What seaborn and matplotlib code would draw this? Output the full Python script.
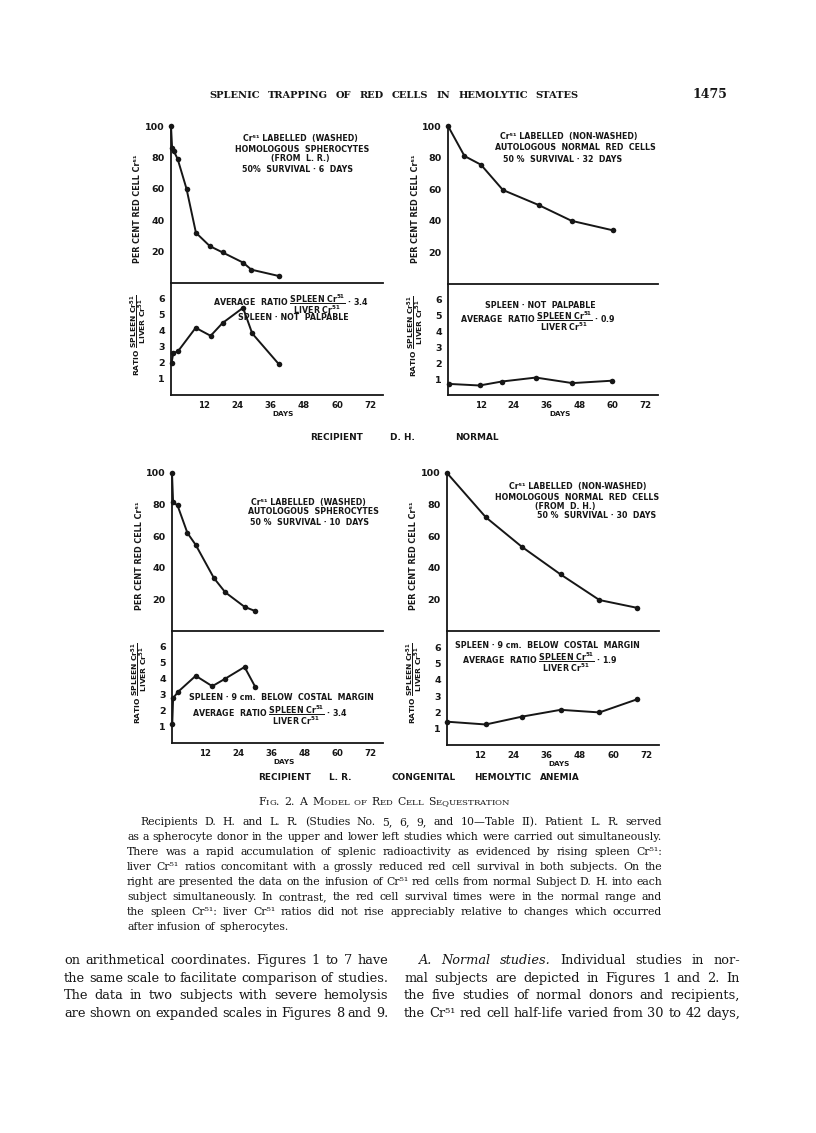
import matplotlib
matplotlib.use("Agg")
import matplotlib.pyplot as plt
import seaborn as sns
from matplotlib.ticker import FixedLocator

W, H = 816, 1133
ink = "#161616"

# ===== data (days, per cent red cell Cr51, spleen/liver ratio) =====
# upper left: washed homologous spherocytes (from L.R.) into D.H.
tl_days = [0, 0.4, 1, 2.4, 5.6, 9, 14, 18.6, 26, 29, 38.8]
tl_pct = [100, 86, 84, 79, 60, 32, 23.5, 19.5, 13, 8.5, 4.5]
tl_rdays = [0.2, 0.8, 2.6, 8.9, 14.3, 18.6, 26, 29.3, 38.8]
tl_ratio = [2.0, 2.6, 2.75, 4.2, 3.7, 4.5, 5.45, 3.85, 1.95]

# upper right: non-washed autologous normal cells, D.H.
tr_days = [0, 6, 12, 20, 33, 45, 60]
tr_pct = [100, 81, 75.5, 59.5, 50, 40, 34]
tr_rdays = [0.3, 11.5, 19.6, 32, 45.3, 59.6]
tr_ratio = [0.7, 0.6, 0.85, 1.1, 0.75, 0.9]

# lower left: washed autologous spherocytes, L.R.
bl_days = [0, 0.4, 2, 5.6, 8.6, 15.2, 19.3, 26.3, 30.2]
bl_pct = [100, 81.5, 79.5, 62, 54.5, 33.5, 24.5, 15.3, 12.6]
bl_rdays = [0.1, 0.4, 2.2, 8.6, 14.6, 19.1, 26.3, 30.2]
bl_ratio = [1.2, 2.8, 3.2, 4.2, 3.55, 4.0, 4.75, 3.5]

# lower right: non-washed homologous normal cells (from D.H.) into L.R.
br_days = [0, 14, 27, 41, 55, 68.5]
br_pct = [100, 72, 53.3, 35.8, 19.6, 14.7]
br_rdays = [0.1, 14, 27, 41, 55, 68.5]
br_ratio = [1.43, 1.26, 1.74, 2.16, 2.0, 2.8]

day_ticks = [12, 24, 36, 48, 60, 72]
day_minor = [6, 18, 30, 42, 54, 66]
pct_ticks = [20, 40, 60, 80, 100]
ratio_ticks = [1, 2, 3, 4, 5, 6]

sns.set_style("white")
plt.rcParams["font.family"] = ["DejaVu Sans"]
plt.rcParams["mathtext.fontset"] = "dejavusans"
plt.rcParams["text.color"] = ink

fig = plt.figure(figsize=(W / 100, H / 100), dpi=100)
renderer = fig.canvas.get_renderer()


def fx(x):
    return x / W


def fy(y):
    return 1 - y / H


def txt(x, y, s, size=5.7, ha="center", **kw):
    return fig.text(fx(x), fy(y), s, fontsize=size, ha=ha, va="center",
                    fontweight="bold", color=ink, **kw)


def style(ax, upper):
    sns.despine(ax=ax)
    ax.patch.set_alpha(0)
    ax.set_xlim(0, 76.5)
    for s in ("left", "bottom"):
        ax.spines[s].set_linewidth(1.3)
        ax.spines[s].set_color(ink)
    ax.xaxis.set_major_locator(FixedLocator(day_ticks))
    ax.xaxis.set_minor_locator(FixedLocator(day_minor))
    if upper:
        ax.set_ylim(0, 100)
        ax.set_yticks(pct_ticks)
        ax.tick_params(axis="x", which="both", direction="in", length=3.5,
                       width=1.1, color=ink, labelbottom=False)
    else:
        ax.set_ylim(0, 7)
        ax.set_yticks(ratio_ticks)
        ax.tick_params(axis="x", which="both", direction="out", length=3,
                       width=1.1, color=ink, labelsize=6.2, pad=1.5)
    ax.tick_params(axis="y", direction="out", length=3, width=1.1, color=ink,
                   labelsize=6.8, pad=1.5)
    for lab in ax.get_xticklabels() + ax.get_yticklabels():
        lab.set_fontweight("bold")
        lab.set_color(ink)
    ax.set_xlabel("")
    ax.set_ylabel("")


def curve(ax, x, y):
    sns.lineplot(x=x, y=y, ax=ax, color=ink, linewidth=1.4, marker="o",
                 markersize=4, markeredgewidth=0, estimator=None, sort=False)
    ax.lines[-1].set_clip_on(False)


frac = r"$\dfrac{\mathbf{SPLEEN\ Cr^{51}}}{\mathbf{LIVER\ Cr^{51}}}$"

# (left, right, top=100, divider, bottom) in page pixels
panels = [
    ((171, 383, 126, 283, 395), tl_days, tl_pct, tl_rdays, tl_ratio),
    ((448, 658, 126, 284, 395), tr_days, tr_pct, tr_rdays, tr_ratio),
    ((172, 383, 473, 631, 743), bl_days, bl_pct, bl_rdays, bl_ratio),
    ((447, 659, 473, 631, 745), br_days, br_pct, br_rdays, br_ratio),
]

for (l, r, t, d, b), days, pct, rdays, ratio in panels:
    up = fig.add_axes([fx(l), fy(d), (r - l) / W, (d - t) / H])
    lo = fig.add_axes([fx(l), fy(b), (r - l) / W, (b - d) / H])
    curve(up, days, pct)
    curve(lo, rdays, ratio)
    style(up, True)
    style(lo, False)
    txt(l - 33, (t + d) / 2 + 4, "PER CENT RED CELL Cr\u2075\u00b9", size=5.8, rotation=90)
    txt(l - 33, d + 52, "RATIO " + frac, size=5.4, rotation=90)
    txt(l + 112, b + 19, "DAYS", size=5.2)

# ===== panel annotations =====
txt(300, 139, "Cr\u2075\u00b9 LABELLED  (WASHED)")
txt(302, 150, "HOMOLOGOUS  SPHEROCYTES")
txt(300, 159, "(FROM  L. R.)")
txt(297, 170, "50%  SURVIVAL \u00b7 6  DAYS")
txt(213, 304, "AVERAGE  RATIO " + frac + " \u00b7 3.4", ha="left")
txt(238, 318, "SPLEEN \u00b7 NOT  PALPABLE", ha="left")

txt(569, 136, "Cr\u2075\u00b9 LABELLED  (NON-WASHED)")
txt(575, 148, "AUTOLOGOUS  NORMAL  RED  CELLS")
txt(563, 159, "50 %  SURVIVAL \u00b7 32  DAYS")
txt(485, 306, "SPLEEN \u00b7 NOT  PALPABLE", ha="left")
txt(460, 321, "AVERAGE  RATIO " + frac + " \u00b7 0.9", ha="left")

txt(308, 502, "Cr\u2075\u00b9 LABELLED  (WASHED)")
txt(313, 512, "AUTOLOGOUS  SPHEROCYTES")
txt(310, 522, "50 %  SURVIVAL \u00b7 10  DAYS")
txt(189, 698, "SPLEEN \u00b7 9 cm.  BELOW  COSTAL  MARGIN", ha="left")
txt(192, 715, "AVERAGE  RATIO " + frac + " \u00b7 3.4", ha="left")

txt(578, 487, "Cr\u2075\u00b9 LABELLED  (NON-WASHED)")
txt(577, 497, "HOMOLOGOUS  NORMAL  RED  CELLS")
txt(565, 506, "(FROM  D. H.)")
txt(597, 515, "50 %  SURVIVAL \u00b7 30  DAYS")
txt(455, 646, "SPLEEN \u00b7 9 cm.  BELOW  COSTAL  MARGIN", ha="left")
txt(462, 662, "AVERAGE  RATIO " + frac + " \u00b7 1.9", ha="left")

# recipient labels
for x, w in [(310, "RECIPIENT"), (390, "D. H."), (455, "NORMAL")]:
    txt(x, 437, w, size=6.4, ha="left")
for x, w in [(258, "RECIPIENT"), (329, "L. R."), (391, "CONGENITAL"),
             (474, "HEMOLYTIC"), (540, "ANEMIA")]:
    txt(x, 777, w, size=6.4, ha="left")


# ===== page text =====
def justify(x0, x1, y, line, size, last=False, italic=0, weight="normal"):
    words = line.split()
    objs = []
    for i, w in enumerate(words):
        objs.append(fig.text(0, fy(y), w, fontsize=size, family="DejaVu Serif",
                             style="italic" if i < italic else "normal",
                             fontweight=weight, va="baseline", color=ink))
    widths = [o.get_window_extent(renderer).width for o in objs]
    gap = size * 0.33 * 100 / 72
    if not last and len(words) > 1:
        gap = (x1 - x0 - sum(widths)) / (len(words) - 1)
    x = x0
    for o, w in zip(objs, widths):
        o.set_x(fx(x))
        x += w + gap


justify(209, 579, 98, "SPLENIC TRAPPING OF RED CELLS IN HEMOLYTIC STATES", 7.1, weight="bold")
fig.text(fx(710), fy(98), "1475", fontsize=9, family="DejaVu Serif", fontweight="bold",
         ha="center", va="baseline", color=ink)


def smallcaps(x0, y, s, size):
    x = x0
    for word in s.split():
        for ch in word:
            small = ch.islower()
            t = fig.text(fx(x), fy(y), ch.upper(), fontsize=size * (0.78 if small else 1),
                         family="DejaVu Serif", va="baseline", color=ink)
            x += t.get_window_extent(renderer).width
        x += size * 0.45 * 100 / 72


smallcaps(258, 805, "Fig. 2.  A Model of Red Cell Sequestration", 7.8)

caption = [
    "Recipients D. H. and L. R. (Studies No. 5, 6, 9, and 10\u2014Table II).  Patient L. R. served",
    "as a spherocyte donor in the upper and lower left studies which were carried out simultaneously.",
    "There was a rapid accumulation of splenic radioactivity as evidenced by rising spleen Cr\u2075\u00b9:",
    "liver Cr\u2075\u00b9 ratios concomitant with a grossly reduced red cell survival in both subjects.  On the",
    "right are presented the data on the infusion of Cr\u2075\u00b9 red cells from normal Subject D. H. into each",
    "subject simultaneously.  In contrast, the red cell survival times were in the normal range and",
    "the spleen Cr\u2075\u00b9: liver Cr\u2075\u00b9 ratios did not rise appreciably relative to changes which occurred",
    "after infusion of spherocytes.",
]
for i, line in enumerate(caption):
    justify(140 if i == 0 else 127, 662, 825 + 15 * i, line, 7.85, last=(i == len(caption) - 1))

left_col = [
    "on arithmetical coordinates.  Figures 1 to 7 have",
    "the same scale to facilitate comparison of studies.",
    "The data in two subjects with severe hemolysis",
    "are shown on expanded scales in Figures 8 and 9.",
]
right_col = [
    "A. Normal studies.  Individual studies in nor-",
    "mal subjects are depicted in Figures 1 and 2.  In",
    "the five studies of normal donors and recipients,",
    "the Cr\u2075\u00b9 red cell half-life varied from 30 to 42 days,",
]
for i, line in enumerate(left_col):
    justify(64, 388, 964 + 17.7 * i, line, 9.3)
for i, line in enumerate(right_col):
    justify(419 if i == 0 else 404, 740, 964 + 17.7 * i, line, 9.3, italic=3 if i == 0 else 0)

fig.savefig("out.png", dpi=100)
